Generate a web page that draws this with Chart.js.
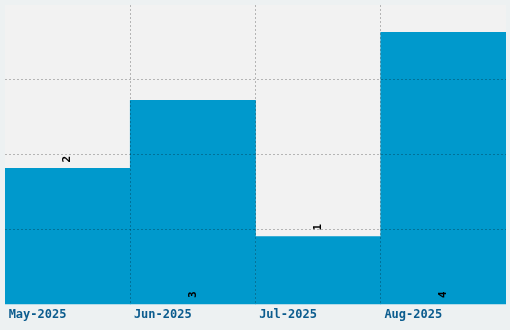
<!DOCTYPE html>
<html>
<head>
<meta charset="utf-8">
<script src="https://cdn.jsdelivr.net/npm/chart.js@4"></script>
<style>
  body { margin: 0; background: #edf1f2; }
  #wrap { width: 510px; height: 330px; }
</style>
</head>
<body>
<div id="wrap"><canvas id="myChart"></canvas></div>
<script>
// DATA

var months = ["May-2025", "Jun-2025", "Jul-2025", "Aug-2025"];
var counts = [2, 3, 1, 4];
var yMax = 4.4;
var yStep = 1.1;

// where each value label sits: above the bar or at its base
var labelAnchor = ["end", "base", "end", "base"];

// PLUGINS

var plotBackground = {
  id: 'plotBackground',
  beforeDraw: function(chart) {
    var a = chart.chartArea, ctx = chart.ctx;
    ctx.save();
    ctx.fillStyle = '#f2f2f2';
    ctx.fillRect(a.left, a.top, a.right - a.left, a.bottom - a.top);
    ctx.restore();
  }
};

var barLabels = {
  id: 'barLabels',
  afterDraw: function(chart) {
    var ctx = chart.ctx;
    var meta = chart.getDatasetMeta(0);
    ctx.save();
    ctx.fillStyle = '#000';
    ctx.font = 'bold 11px "DejaVu Sans Mono", monospace';
    ctx.textAlign = 'left';
    ctx.textBaseline = 'middle';
    meta.data.forEach(function(bar, i) {
      var y = labelAnchor[i] === 'base' ? bar.base - 6 : bar.y - 6;
      ctx.save();
      ctx.translate(bar.x, y);
      ctx.rotate(-Math.PI / 2);
      ctx.fillText(String(counts[i]), 0, 0);
      ctx.restore();
    });
    ctx.restore();
  }
};

// CHART

// only the inner grid lines are drawn, not the ones on the plot edges
function innerOnly(last) {
  return function(c) {
    if (c.type !== 'tick' || c.index === 0 || c.index >= last) return 'rgba(0,0,0,0)';
    return 'rgba(0,0,0,0.25)';
  };
}

var ctx = document.getElementById('myChart').getContext('2d');

var chart = new Chart(ctx, {
  type: 'bar',
  data: {
    labels: months,
    datasets: [{
      data: counts,
      backgroundColor: '#0099cc',
      borderWidth: 0,
      barPercentage: 1,
      categoryPercentage: 1
    }]
  },
  options: {
    responsive: true,
    maintainAspectRatio: false,
    animation: false,
    layout: { padding: { left: 5, right: 4, top: 5, bottom: 5 } },
    plugins: {
      legend: { display: false },
      tooltip: { enabled: false }
    },
    scales: {
      x: {
        border: { display: false, dash: [2, 2] },
        grid: {
          z: 1,
          offset: true,
          drawTicks: false,
          color: innerOnly(months.length)
        },
        ticks: {
          color: '#0b5c8e',
          font: { family: '"DejaVu Sans Mono", monospace', size: 12, weight: 'bold' },
          align: 'start',
          labelOffset: -59,
          padding: 3,
          maxRotation: 0
        }
      },
      y: {
        min: 0,
        max: yMax,
        border: { display: false, dash: [2, 2] },
        grid: {
          z: 1,
          drawTicks: false,
          color: innerOnly(4)
        },
        ticks: { display: false, stepSize: yStep }
      }
    }
  },
  plugins: [plotBackground, barLabels]
});
</script>
</body>
</html>
